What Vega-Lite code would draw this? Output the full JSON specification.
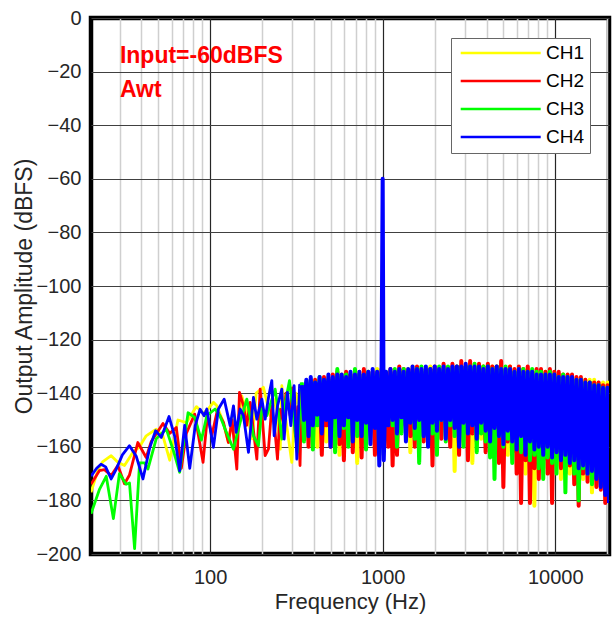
{
 "$schema": "https://vega.github.io/schema/vega-lite/v6.json",
 "width": 518,
 "height": 536,
 "autosize": "none",
 "padding": {"left": 91, "top": 18, "right": 7, "bottom": 65},
 "background": "white",
 "config": {
  "font": "Liberation Sans",
  "view": {"stroke": "#000000", "strokeWidth": 4.5},
  "axis": {"labelColor": "#262626", "titleColor": "#262626", "labelFont": "Liberation Sans", "titleFont": "Liberation Sans"}
 },
 "datasets": {
  "low": [
   {"ch":"CH1","f":20.4,"v":-177},{"ch":"CH1","f":22.3,"v":-169},{"ch":"CH1","f":23.9,"v":-165.5},{"ch":"CH1","f":26.7,"v":-163.3},{"ch":"CH1","f":29.2,"v":-165.8},{"ch":"CH1","f":31.9,"v":-167},{"ch":"CH1","f":35.7,"v":-162},{"ch":"CH1","f":39,"v":-160},{"ch":"CH1","f":42.6,"v":-155.9},{"ch":"CH1","f":48.7,"v":-153.4},{"ch":"CH1","f":53.3,"v":-156},{"ch":"CH1","f":58.3,"v":-165},{"ch":"CH1","f":65.1,"v":-150},{"ch":"CH1","f":72.8,"v":-151},{"ch":"CH1","f":83.3,"v":-145},{"ch":"CH1","f":91,"v":-147.5},{"ch":"CH1","f":97,"v":-146},{"ch":"CH1","f":104.5,"v":-143.4},{"ch":"CH1","f":109.3,"v":-144.7},{"ch":"CH1","f":118,"v":-150},{"ch":"CH1","f":127.6,"v":-158.4},{"ch":"CH1","f":136.6,"v":-147.2},{"ch":"CH1","f":142,"v":-157},{"ch":"CH1","f":152.6,"v":-141},{"ch":"CH1","f":163.2,"v":-147.2},{"ch":"CH1","f":175,"v":-157},{"ch":"CH1","f":185,"v":-140},{"ch":"CH1","f":203.7,"v":-137.8},{"ch":"CH1","f":223,"v":-148.4},{"ch":"CH1","f":240,"v":-142},{"ch":"CH1","f":255,"v":-160.9},{"ch":"CH1","f":260.3,"v":-137.2},{"ch":"CH1","f":275,"v":-150},{"ch":"CH1","f":297.4,"v":-165.8},{"ch":"CH1","f":315,"v":-140},{"ch":"CH1","f":330,"v":-146},{"ch":"CH1","f":340,"v":-138},
   {"ch":"CH2","f":20.4,"v":-174},{"ch":"CH2","f":22.8,"v":-168.9},{"ch":"CH2","f":24.4,"v":-168.5},{"ch":"CH2","f":26.7,"v":-170.7},{"ch":"CH2","f":29.2,"v":-167},{"ch":"CH2","f":31.9,"v":-173.8},{"ch":"CH2","f":34.1,"v":-170.5},{"ch":"CH2","f":38.1,"v":-158.4},{"ch":"CH2","f":42.6,"v":-164},{"ch":"CH2","f":45.6,"v":-158},{"ch":"CH2","f":53.3,"v":-151.3},{"ch":"CH2","f":58.3,"v":-155},{"ch":"CH2","f":63.7,"v":-152.8},{"ch":"CH2","f":68.1,"v":-168},{"ch":"CH2","f":72.8,"v":-155},{"ch":"CH2","f":81.4,"v":-147.8},{"ch":"CH2","f":91,"v":-165.8},{"ch":"CH2","f":95.7,"v":-150.9},{"ch":"CH2","f":98,"v":-149.7},{"ch":"CH2","f":102.2,"v":-155.9},{"ch":"CH2","f":110,"v":-146.6},{"ch":"CH2","f":119.5,"v":-150.9},{"ch":"CH2","f":127.6,"v":-158.4},{"ch":"CH2","f":134,"v":-150},{"ch":"CH2","f":142.8,"v":-168.3},{"ch":"CH2","f":148,"v":-139.7},{"ch":"CH2","f":156.1,"v":-144.7},{"ch":"CH2","f":163,"v":-152},{"ch":"CH2","f":170.6,"v":-143.4},{"ch":"CH2","f":186.5,"v":-164.6},{"ch":"CH2","f":195,"v":-138.5},{"ch":"CH2","f":208.4,"v":-163.3},{"ch":"CH2","f":217.9,"v":-160.8},{"ch":"CH2","f":227.8,"v":-144.7},{"ch":"CH2","f":236,"v":-152},{"ch":"CH2","f":245.7,"v":-164.6},{"ch":"CH2","f":255,"v":-146},{"ch":"CH2","f":266,"v":-150.9},{"ch":"CH2","f":275,"v":-140},{"ch":"CH2","f":291,"v":-148.4},{"ch":"CH2","f":300,"v":-138},{"ch":"CH2","f":312,"v":-156},{"ch":"CH2","f":322,"v":-145},{"ch":"CH2","f":332,"v":-167},{"ch":"CH2","f":340,"v":-137},
   {"ch":"CH3","f":20.4,"v":-185},{"ch":"CH3","f":22.8,"v":-176},{"ch":"CH3","f":25,"v":-171},{"ch":"CH3","f":27.5,"v":-186.8},{"ch":"CH3","f":29.8,"v":-170},{"ch":"CH3","f":32.6,"v":-174},{"ch":"CH3","f":34.1,"v":-173.5},{"ch":"CH3","f":36.5,"v":-198},{"ch":"CH3","f":39,"v":-166},{"ch":"CH3","f":41.7,"v":-166},{"ch":"CH3","f":43.6,"v":-168.3},{"ch":"CH3","f":48.7,"v":-157},{"ch":"CH3","f":55.7,"v":-153.4},{"ch":"CH3","f":60.9,"v":-160.9},{"ch":"CH3","f":66.6,"v":-169.5},{"ch":"CH3","f":74.5,"v":-147.3},{"ch":"CH3","f":81.4,"v":-149},{"ch":"CH3","f":89,"v":-157.5},{"ch":"CH3","f":95.7,"v":-148.4},{"ch":"CH3","f":106.9,"v":-145.9},{"ch":"CH3","f":114,"v":-148.4},{"ch":"CH3","f":122.1,"v":-153.4},{"ch":"CH3","f":136.6,"v":-160.9},{"ch":"CH3","f":149.3,"v":-150.9},{"ch":"CH3","f":163.2,"v":-142.2},{"ch":"CH3","f":178.3,"v":-155.9},{"ch":"CH3","f":190.6,"v":-159.6},{"ch":"CH3","f":199.3,"v":-145.9},{"ch":"CH3","f":213,"v":-148.4},{"ch":"CH3","f":238.2,"v":-138.5},{"ch":"CH3","f":250,"v":-148},{"ch":"CH3","f":260.3,"v":-157.1},{"ch":"CH3","f":270,"v":-145},{"ch":"CH3","f":288.4,"v":-135.3},{"ch":"CH3","f":306.9,"v":-150.9},{"ch":"CH3","f":320,"v":-162},{"ch":"CH3","f":332.5,"v":-144.7},{"ch":"CH3","f":340,"v":-136},
   {"ch":"CH4","f":20.4,"v":-171},{"ch":"CH4","f":22,"v":-168},{"ch":"CH4","f":23.3,"v":-166.5},{"ch":"CH4","f":24.8,"v":-167.5},{"ch":"CH4","f":26.7,"v":-172},{"ch":"CH4","f":28.5,"v":-168.5},{"ch":"CH4","f":31,"v":-163},{"ch":"CH4","f":34.1,"v":-159.6},{"ch":"CH4","f":37.3,"v":-163.5},{"ch":"CH4","f":40.8,"v":-172},{"ch":"CH4","f":44.6,"v":-160.5},{"ch":"CH4","f":48.3,"v":-154},{"ch":"CH4","f":52.1,"v":-156.5},{"ch":"CH4","f":57.8,"v":-148.7},{"ch":"CH4","f":62.3,"v":-156},{"ch":"CH4","f":66.6,"v":-169},{"ch":"CH4","f":71.2,"v":-152},{"ch":"CH4","f":76.2,"v":-168},{"ch":"CH4","f":82,"v":-152},{"ch":"CH4","f":87.5,"v":-146},{"ch":"CH4","f":92.3,"v":-148.4},{"ch":"CH4","f":95.7,"v":-145.9},{"ch":"CH4","f":104.5,"v":-160.2},{"ch":"CH4","f":111.7,"v":-145.9},{"ch":"CH4","f":120.6,"v":-142.2},{"ch":"CH4","f":130.6,"v":-152.1},{"ch":"CH4","f":136.6,"v":-144.7},{"ch":"CH4","f":141.5,"v":-154.6},{"ch":"CH4","f":149.3,"v":-145.9},{"ch":"CH4","f":156.1,"v":-148.4},{"ch":"CH4","f":166.8,"v":-162.1},{"ch":"CH4","f":178.3,"v":-141.6},{"ch":"CH4","f":186.5,"v":-149.7},{"ch":"CH4","f":199.3,"v":-142.2},{"ch":"CH4","f":208.4,"v":-149.7},{"ch":"CH4","f":217.9,"v":-141.6},{"ch":"CH4","f":227.8,"v":-135.3},{"ch":"CH4","f":235,"v":-155.9},{"ch":"CH4","f":245.7,"v":-144.7},{"ch":"CH4","f":260.3,"v":-138.5},{"ch":"CH4","f":268.5,"v":-157.1},{"ch":"CH4","f":280.7,"v":-139.7},{"ch":"CH4","f":293.5,"v":-152.1},{"ch":"CH4","f":306.9,"v":-137.2},{"ch":"CH4","f":318.1,"v":-164.6},{"ch":"CH4","f":330,"v":-137},{"ch":"CH4","f":340,"v":-137}
  ],
  "high": [
   {"f":340,"CH1":-138,"CH2":-137,"CH3":-136,"CH4":-137},
   {"f":350,"CH1":-152,"CH2":-150,"CH3":-158,"CH4":-150},
   {"f":361,"CH1":-137,"CH2":-136,"CH3":-139,"CH4":-135},
   {"f":372,"CH1":-148,"CH2":-160,"CH3":-146,"CH4":-156},
   {"f":383,"CH1":-136,"CH2":-138,"CH3":-135,"CH4":-134},
   {"f":394,"CH1":-155,"CH2":-150,"CH3":-161,"CH4":-152},
   {"f":406,"CH1":-137,"CH2":-135,"CH3":-136,"CH4":-136},
   {"f":418,"CH1":-160,"CH2":-149,"CH3":-152,"CH4":-148},
   {"f":431,"CH1":-135,"CH2":-136,"CH3":-134,"CH4":-134},
   {"f":444,"CH1":-150,"CH2":-163,"CH3":-150,"CH4":-155},
   {"f":457,"CH1":-136,"CH2":-134,"CH3":-137,"CH4":-135},
   {"f":471,"CH1":-158,"CH2":-152,"CH3":-147,"CH4":-150},
   {"f":485,"CH1":-134,"CH2":-135,"CH3":-135,"CH4":-133},
   {"f":499,"CH1":-149,"CH2":-160,"CH3":-155,"CH4":-160},
   {"f":514,"CH1":-135,"CH2":-133,"CH3":-136,"CH4":-134},
   {"f":530,"CH1":-153,"CH2":-151,"CH3":-162,"CH4":-149},
   {"f":546,"CH1":-134,"CH2":-132,"CH3":-131,"CH4":-133},
   {"f":562,"CH1":-163,"CH2":-159,"CH3":-149,"CH4":-156},
   {"f":579,"CH1":-133,"CH2":-134,"CH3":-134,"CH4":-133},
   {"f":596,"CH1":-151,"CH2":-165,"CH3":-153,"CH4":-152},
   {"f":614,"CH1":-135,"CH2":-132,"CH3":-133,"CH4":-134},
   {"f":632,"CH1":-156,"CH2":-150,"CH3":-160,"CH4":-149},
   {"f":651,"CH1":-133,"CH2":-133,"CH3":-134,"CH4":-132},
   {"f":671,"CH1":-152,"CH2":-162,"CH3":-151,"CH4":-158},
   {"f":691,"CH1":-134,"CH2":-135,"CH3":-131,"CH4":-133},
   {"f":712,"CH1":-166,"CH2":-151,"CH3":-156,"CH4":-150},
   {"f":733,"CH1":-132,"CH2":-133,"CH3":-133,"CH4":-132},
   {"f":755,"CH1":-150,"CH2":-164,"CH3":-152,"CH4":-156},
   {"f":778,"CH1":-133,"CH2":-131,"CH3":-134,"CH4":-133},
   {"f":801,"CH1":-158,"CH2":-157,"CH3":-161,"CH4":-151},
   {"f":825,"CH1":-132,"CH2":-134,"CH3":-132,"CH4":-132},
   {"f":850,"CH1":-151,"CH2":-150,"CH3":-153,"CH4":-159},
   {"f":875,"CH1":-133,"CH2":-132,"CH3":-133,"CH4":-131},
   {"f":902,"CH1":-160,"CH2":-163,"CH3":-150,"CH4":-153},
   {"f":929,"CH1":-131,"CH2":-133,"CH3":-132,"CH4":-132},
   {"f":956,"CH1":-152,"CH2":-149,"CH3":-163,"CH4":-167},
   {"f":985,"CH1":-132,"CH2":-131,"CH3":-133,"CH4":-131},
   {"f":1000,"CH1":-150,"CH2":-153,"CH3":-151,"CH4":-60},
   {"f":1015,"CH1":-134,"CH2":-132,"CH3":-133,"CH4":-165},
   {"f":1045,"CH1":-135,"CH2":-134,"CH3":-132,"CH4":-132},
   {"f":1077,"CH1":-156,"CH2":-160,"CH3":-150,"CH4":-152},
   {"f":1109,"CH1":-132,"CH2":-131,"CH3":-134,"CH4":-131},
   {"f":1142,"CH1":-153,"CH2":-167,"CH3":-152,"CH4":-150},
   {"f":1176,"CH1":-133,"CH2":-132,"CH3":-131,"CH4":-132},
   {"f":1211,"CH1":-158,"CH2":-163,"CH3":-160,"CH4":-155},
   {"f":1248,"CH1":-131,"CH2":-130,"CH3":-132,"CH4":-131},
   {"f":1285,"CH1":-150,"CH2":-152,"CH3":-155,"CH4":-149},
   {"f":1324,"CH1":-132,"CH2":-131,"CH3":-131,"CH4":-132},
   {"f":1364,"CH1":-155,"CH2":-150,"CH3":-152,"CH4":-158},
   {"f":1405,"CH1":-131,"CH2":-132,"CH3":-133,"CH4":-131},
   {"f":1447,"CH1":-162,"CH2":-156,"CH3":-150,"CH4":-151},
   {"f":1490,"CH1":-130,"CH2":-131,"CH3":-132,"CH4":-130},
   {"f":1535,"CH1":-151,"CH2":-160,"CH3":-157,"CH4":-153},
   {"f":1581,"CH1":-132,"CH2":-130,"CH3":-131,"CH4":-131},
   {"f":1628,"CH1":-157,"CH2":-152,"CH3":-166,"CH4":-150},
   {"f":1677,"CH1":-131,"CH2":-132,"CH3":-130,"CH4":-131},
   {"f":1728,"CH1":-150,"CH2":-158,"CH3":-153,"CH4":-156},
   {"f":1779,"CH1":-132,"CH2":-131,"CH3":-132,"CH4":-130},
   {"f":1833,"CH1":-155,"CH2":-150,"CH3":-151,"CH4":-160},
   {"f":1888,"CH1":-130,"CH2":-131,"CH3":-131,"CH4":-131},
   {"f":1944,"CH1":-153,"CH2":-167,"CH3":-155,"CH4":-151},
   {"f":2003,"CH1":-131,"CH2":-130,"CH3":-132,"CH4":-130},
   {"f":2063,"CH1":-160,"CH2":-152,"CH3":-163,"CH4":-154},
   {"f":2125,"CH1":-132,"CH2":-131,"CH3":-130,"CH4":-131},
   {"f":2188,"CH1":-151,"CH2":-157,"CH3":-150,"CH4":-150},
   {"f":2254,"CH1":-130,"CH2":-129,"CH3":-131,"CH4":-130},
   {"f":2322,"CH1":-156,"CH2":-151,"CH3":-158,"CH4":-157},
   {"f":2391,"CH1":-131,"CH2":-131,"CH3":-130,"CH4":-131},
   {"f":2463,"CH1":-152,"CH2":-160,"CH3":-152,"CH4":-150},
   {"f":2537,"CH1":-130,"CH2":-129,"CH3":-131,"CH4":-130},
   {"f":2613,"CH1":-169,"CH2":-153,"CH3":-156,"CH4":-153},
   {"f":2691,"CH1":-131,"CH2":-130,"CH3":-130,"CH4":-130},
   {"f":2772,"CH1":-152,"CH2":-163,"CH3":-151,"CH4":-160},
   {"f":2855,"CH1":-130,"CH2":-128,"CH3":-131,"CH4":-130},
   {"f":2941,"CH1":-158,"CH2":-151,"CH3":-160,"CH4":-151},
   {"f":3029,"CH1":-131,"CH2":-130,"CH3":-130,"CH4":-129},
   {"f":3120,"CH1":-150,"CH2":-165,"CH3":-153,"CH4":-155},
   {"f":3213,"CH1":-129,"CH2":-128,"CH3":-130,"CH4":-130},
   {"f":3310,"CH1":-166,"CH2":-155,"CH3":-151,"CH4":-152},
   {"f":3409,"CH1":-130,"CH2":-131,"CH3":-129,"CH4":-130},
   {"f":3511,"CH1":-153,"CH2":-158,"CH3":-162,"CH4":-157},
   {"f":3617,"CH1":-131,"CH2":-129,"CH3":-131,"CH4":-130},
   {"f":3725,"CH1":-157,"CH2":-152,"CH3":-155,"CH4":-151},
   {"f":3837,"CH1":-130,"CH2":-130,"CH3":-130,"CH4":-131},
   {"f":3952,"CH1":-152,"CH2":-162,"CH3":-158,"CH4":-154},
   {"f":4071,"CH1":-131,"CH2":-129,"CH3":-130,"CH4":-130},
   {"f":4193,"CH1":-160,"CH2":-155,"CH3":-164,"CH4":-158},
   {"f":4319,"CH1":-130,"CH2":-130,"CH3":-131,"CH4":-131},
   {"f":4448,"CH1":-154,"CH2":-158,"CH3":-172,"CH4":-153},
   {"f":4582,"CH1":-131,"CH2":-130,"CH3":-130,"CH4":-130},
   {"f":4719,"CH1":-158,"CH2":-166,"CH3":-156,"CH4":-156},
   {"f":4861,"CH1":-131,"CH2":-128,"CH3":-131,"CH4":-131},
   {"f":5006,"CH1":-155,"CH2":-175,"CH3":-160,"CH4":-159},
   {"f":5157,"CH1":-132,"CH2":-131,"CH3":-130,"CH4":-131},
   {"f":5311,"CH1":-163,"CH2":-158,"CH3":-157,"CH4":-154},
   {"f":5471,"CH1":-130,"CH2":-130,"CH3":-131,"CH4":-131},
   {"f":5635,"CH1":-156,"CH2":-162,"CH3":-166,"CH4":-158},
   {"f":5804,"CH1":-132,"CH2":-131,"CH3":-132,"CH4":-132},
   {"f":5978,"CH1":-160,"CH2":-170,"CH3":-158,"CH4":-161},
   {"f":6157,"CH1":-131,"CH2":-130,"CH3":-131,"CH4":-131},
   {"f":6342,"CH1":-158,"CH2":-181,"CH3":-162,"CH4":-156},
   {"f":6532,"CH1":-132,"CH2":-131,"CH3":-131,"CH4":-132},
   {"f":6728,"CH1":-170,"CH2":-165,"CH3":-160,"CH4":-163},
   {"f":6930,"CH1":-131,"CH2":-130,"CH3":-132,"CH4":-132},
   {"f":7138,"CH1":-160,"CH2":-181,"CH3":-165,"CH4":-158},
   {"f":7352,"CH1":-132,"CH2":-132,"CH3":-131,"CH4":-132},
   {"f":7573,"CH1":-182,"CH2":-168,"CH3":-163,"CH4":-161},
   {"f":7800,"CH1":-132,"CH2":-131,"CH3":-132,"CH4":-133},
   {"f":8034,"CH1":-163,"CH2":-172,"CH3":-168,"CH4":-160},
   {"f":8275,"CH1":-133,"CH2":-131,"CH3":-132,"CH4":-133},
   {"f":8523,"CH1":-160,"CH2":-165,"CH3":-172,"CH4":-163},
   {"f":8779,"CH1":-132,"CH2":-132,"CH3":-133,"CH4":-133},
   {"f":9042,"CH1":-168,"CH2":-170,"CH3":-164,"CH4":-160},
   {"f":9314,"CH1":-133,"CH2":-131,"CH3":-132,"CH4":-133},
   {"f":9593,"CH1":-162,"CH2":-181,"CH3":-166,"CH4":-164},
   {"f":9881,"CH1":-133,"CH2":-132,"CH3":-133,"CH4":-133},
   {"f":10177,"CH1":-167,"CH2":-164,"CH3":-170,"CH4":-162},
   {"f":10483,"CH1":-133,"CH2":-132,"CH3":-134,"CH4":-134},
   {"f":10797,"CH1":-172,"CH2":-168,"CH3":-163,"CH4":-165},
   {"f":11121,"CH1":-134,"CH2":-133,"CH3":-133,"CH4":-134},
   {"f":11455,"CH1":-165,"CH2":-170,"CH3":-177,"CH4":-163},
   {"f":11798,"CH1":-134,"CH2":-133,"CH3":-134,"CH4":-134},
   {"f":12152,"CH1":-170,"CH2":-167,"CH3":-166,"CH4":-166},
   {"f":12517,"CH1":-134,"CH2":-133,"CH3":-135,"CH4":-134},
   {"f":12892,"CH1":-168,"CH2":-174,"CH3":-170,"CH4":-165},
   {"f":13279,"CH1":-135,"CH2":-134,"CH3":-135,"CH4":-135},
   {"f":13677,"CH1":-166,"CH2":-182,"CH3":-180,"CH4":-168},
   {"f":14088,"CH1":-135,"CH2":-134,"CH3":-135,"CH4":-135},
   {"f":14510,"CH1":-172,"CH2":-170,"CH3":-168,"CH4":-167},
   {"f":14946,"CH1":-135,"CH2":-135,"CH3":-136,"CH4":-136},
   {"f":15394,"CH1":-168,"CH2":-173,"CH3":-170,"CH4":-170},
   {"f":15856,"CH1":-135,"CH2":-136,"CH3":-136,"CH4":-136},
   {"f":16332,"CH1":-177,"CH2":-170,"CH3":-174,"CH4":-169},
   {"f":16822,"CH1":-135,"CH2":-136,"CH3":-137,"CH4":-137},
   {"f":17326,"CH1":-172,"CH2":-175,"CH3":-171,"CH4":-172},
   {"f":17846,"CH1":-136,"CH2":-136,"CH3":-137,"CH4":-137},
   {"f":18381,"CH1":-170,"CH2":-176,"CH3":-172,"CH4":-175},
   {"f":18933,"CH1":-136,"CH2":-137,"CH3":-138,"CH4":-138},
   {"f":19501,"CH1":-175,"CH2":-181,"CH3":-173,"CH4":-178},
   {"f":20086,"CH1":-136,"CH2":-137,"CH3":-138,"CH4":-138},
   {"f":20500,"CH1":-170,"CH2":-178,"CH3":-175,"CH4":-181}
  ],
  "notes": [
   {"f":30,"v":-16.7,"t":"Input=-60dBFS"},
   {"f":30,"v":-29.4,"t":"Awt"}
  ]
 },
 "encoding": {
  "x": {
   "field": "f", "type": "quantitative",
   "scale": {"type": "log", "domain": [20.4, 20500], "nice": false},
   "axis": {
    "title": "Frequency (Hz)",
    "values": [30,40,50,60,70,80,90,100,200,300,400,500,600,700,800,900,1000,2000,3000,4000,5000,6000,7000,8000,9000,10000,20000],
    "labelExpr": "(datum.value == 100 || datum.value == 1000 || datum.value == 10000) ? '' + datum.value : ''",
    "labelFontSize": 20, "labelPadding": 13, "labelOverlap": false, "labelFlush": false, "labelBound": false,
    "ticks": false, "domain": false, "grid": true,
    "gridColor": {"condition": {"test": "datum.value == 100 || datum.value == 1000 || datum.value == 10000", "value": "#262626"}, "value": "#cfcfcf"},
    "gridWidth": {"condition": {"test": "datum.value == 100 || datum.value == 1000 || datum.value == 10000", "value": 1.2}, "value": 1.5},
    "titleFontSize": 22, "titleFontWeight": "normal", "titlePadding": 4
   }
  },
  "y": {
   "field": "v", "type": "quantitative",
   "scale": {"domain": [-200, 0], "nice": false, "zero": false},
   "axis": {
    "title": "Output Amplitude (dBFS)",
    "values": [-200,-180,-160,-140,-120,-100,-80,-60,-40,-20,0],
    "labelFontSize": 20, "labelPadding": 10, "labelOverlap": false, "labelFlush": false, "labelBound": false,
    "ticks": false, "domain": false, "grid": true, "gridColor": "#404040", "gridWidth": 1.2,
    "titleFontSize": 23, "titleFontWeight": "normal", "titlePadding": -1
   }
  }
 },
 "layer": [
  {
   "data": {"name": "low"},
   "mark": {"type": "line", "strokeWidth": 2.8, "strokeJoin": "round", "clip": true},
   "encoding": {
    "color": {"field": "ch", "type": "nominal",
     "scale": {"domain": ["CH1","CH2","CH3","CH4"], "range": ["#ffff00","#ff0000","#00ff00","#0000ff"]},
     "legend": {"title": null, "orient": "none", "legendX": 360, "legendY": 20, "direction": "vertical",
      "fillColor": "#ffffff", "strokeColor": "#666666", "padding": 5.5, "columnPadding": 0,
      "symbolType": "M-1.06,0H14.94", "symbolSize": 100, "symbolStrokeWidth": 2.5, "symbolOpacity": 1,
      "labelFontSize": 19, "labelColor": "#000000", "labelOffset": 70.5, "rowPadding": 8}
    }
   }
  },
  {
   "data": {"name": "high"},
   "transform": [{"fold": ["CH1","CH2","CH3","CH4"], "as": ["ch","v"]}],
   "mark": {"type": "line", "strokeWidth": 4, "strokeJoin": "round", "clip": true},
   "encoding": {
    "color": {"field": "ch", "type": "nominal",
     "scale": {"domain": ["CH1","CH2","CH3","CH4"], "range": ["#ffff00","#ff0000","#00ff00","#0000ff"]}}
   }
  },
  {
   "data": {"name": "notes"},
   "mark": {"type": "text", "align": "left", "baseline": "alphabetic", "fontSize": 23, "fontWeight": "bold", "color": "#ff0000"},
   "encoding": {"text": {"field": "t"}}
  }
 ]
}
